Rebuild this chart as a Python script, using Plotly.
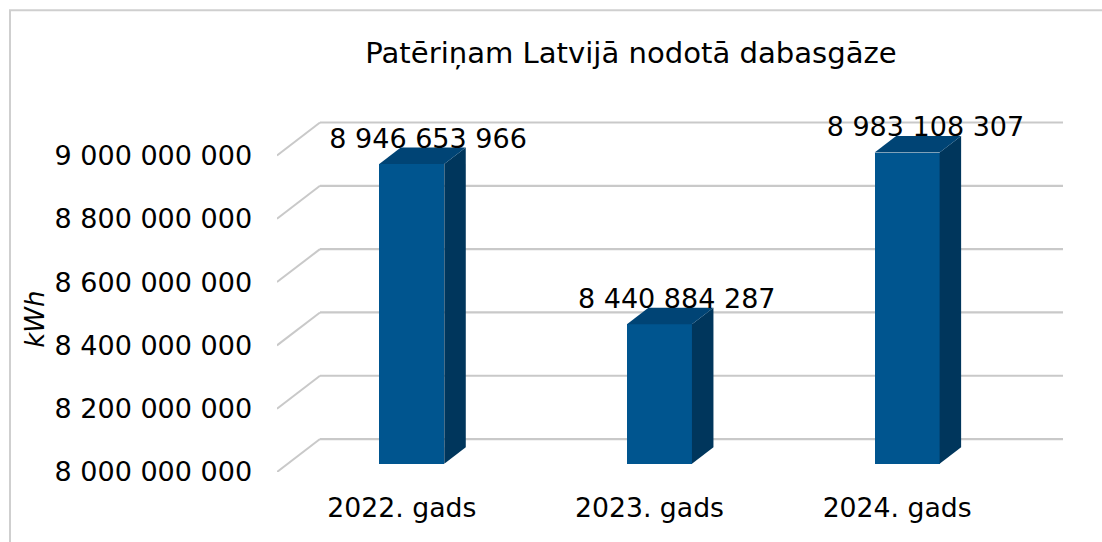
import plotly.graph_objects as go

categories = ["2022. gads", "2023. gads", "2024. gads"]
values = [8946653966, 8440884287, 8983108307]
value_labels = ["8 946 653 966", "8 440 884 287", "8 983 108 307"]
y_ticks = [8000000000, 8200000000, 8400000000, 8600000000, 8800000000, 9000000000]
y_tick_labels = ["8 000 000 000", "8 200 000 000", "8 400 000 000", "8 600 000 000", "8 800 000 000", "9 000 000 000"]
title_text = "Patēriņam Latvijā nodotā dabasgāze"
y_title = "kWh"

W, H = 1102, 542
L, R, T, B = 277, 1063, 113, 472.5
FONT = "DejaVu Sans"
FS = 27.0
GRID = "#c9c9c9"
FRONT, SIDE, TOP = "#00558f", "#00365c", "#004475"

PX_PER_CAT = 247.67
PX_PER_UNIT = 317 / 1e9
BASE = y_ticks[0]
def dx(px): return px / PX_PER_CAT
def dy(px): return px / PX_PER_UNIT

DX, DY = 43, 33            # full depth of the floor, px
BAR_W = 65
x_range = [-0.5, 2.5 + dx(DX)]
y_range = [BASE, BASE + dy(B - T)]

fig = go.Figure()

# front faces
fig.add_trace(go.Bar(
    x=[i + dx(DX * 0.25) + dx(0.2) for i in range(3)],
    y=[v - BASE for v in values],
    base=BASE + dy(DY * 0.25),
    width=dx(BAR_W),
    marker=dict(color=FRONT, line=dict(width=0)),
    hoverinfo="skip", showlegend=False,
))

# side and top faces
for i, v in enumerate(values):
    x0 = i + dx(DX * 0.25) + dx(0.2) - dx(BAR_W) / 2
    x1 = x0 + dx(BAR_W)
    y0 = BASE + dy(DY * 0.25)
    y1 = v + dy(DY * 0.25)
    ox, oy = dx(DX * 0.5), dy(DY * 0.5)
    fig.add_trace(go.Scatter(
        x=[x1, x1 + ox, x1 + ox, x1, x1], y=[y0, y0 + oy, y1 + oy, y1, y0],
        mode="lines", fill="toself", fillcolor=SIDE, line=dict(width=0),
        hoverinfo="skip", showlegend=False))
    fig.add_trace(go.Scatter(
        x=[x0, x0 + ox, x1 + ox, x1, x0], y=[y1, y1 + oy, y1 + oy, y1, y1],
        mode="lines", fill="toself", fillcolor=TOP, line=dict(width=0),
        hoverinfo="skip", showlegend=False))

# value labels
fig.add_trace(go.Scatter(
    x=[i + dx(DX * 0.25) + dx(16.5 + 1 * i) for i in range(3)],
    y=[v + dy(DY * 0.25 + 23) for v in values],
    mode="text", text=value_labels, textposition="middle center",
    textfont=dict(family=FONT, size=FS, color="#000000"),
    cliponaxis=False, hoverinfo="skip", showlegend=False,
))

# back wall and side wall grid lines
shapes = []
for t in y_ticks:
    shapes.append(dict(type="line", xref="x", yref="y", layer="below",
                       x0=-0.5, y0=t, x1=-0.5 + dx(DX), y1=t + dy(DY),
                       line=dict(color=GRID, width=2)))
    shapes.append(dict(type="line", xref="x", yref="y", layer="below",
                       x0=-0.5 + dx(DX), y0=t + dy(DY), x1=x_range[1], y1=t + dy(DY),
                       line=dict(color=GRID, width=2.2)))
# chart frame
shapes.append(dict(type="path", xref="paper", yref="paper", layer="below",
                   path="M %f,%f L %f,%f L %f,%f" % (
                       (10 - L) / (R - L), (B - (H + 5)) / (B - T),
                       (10 - L) / (R - L), (B - 10) / (B - T),
                       (W + 5 - L) / (R - L), (B - 10) / (B - T)),
                   line=dict(color="#cfcfcf", width=2)))

annotations = [dict(text=f"<i>{y_title}</i>", xref="paper", yref="paper",
                    x=(35 - L) / (R - L), y=(B - 320) / (B - T),
                    xanchor="center", yanchor="middle", textangle=-90, showarrow=False,
                    font=dict(family=FONT, size=26, color="#000000"))]

fig.update_layout(
    width=W, height=H, autosize=False,
    paper_bgcolor="#ffffff", plot_bgcolor="#ffffff",
    margin=dict(l=L, r=W - R, t=T, b=H - B, pad=0),
    title=dict(text=title_text, x=631 / W, y=1 - 53 / H, xanchor="center", yanchor="middle",
               xref="container", yref="container",
               font=dict(family=FONT, size=29.1, color="#000000")),
    xaxis=dict(range=x_range, tickmode="array", tickvals=[0.004, 1.004, 2.004], ticktext=categories,
               showgrid=False, zeroline=False, showline=False,
               ticks="outside", ticklen=12, tickcolor="rgba(0,0,0,0)",
               tickfont=dict(family=FONT, size=26.7, color="#000000")),
    yaxis=dict(range=y_range, tickmode="array", tickvals=y_ticks, ticktext=y_tick_labels,
               showgrid=False, zeroline=False, showline=False,
               ticks="outside", ticklen=18.5, tickcolor="rgba(0,0,0,0)",
               tickfont=dict(family=FONT, size=FS, color="#000000")),
    shapes=shapes, annotations=annotations, showlegend=False, bargap=0,
)
fig.write_html("out.html", config=dict(displayModeBar=False),
               post_script="document.body.style.margin='0';document.body.style.overflow='hidden';")
